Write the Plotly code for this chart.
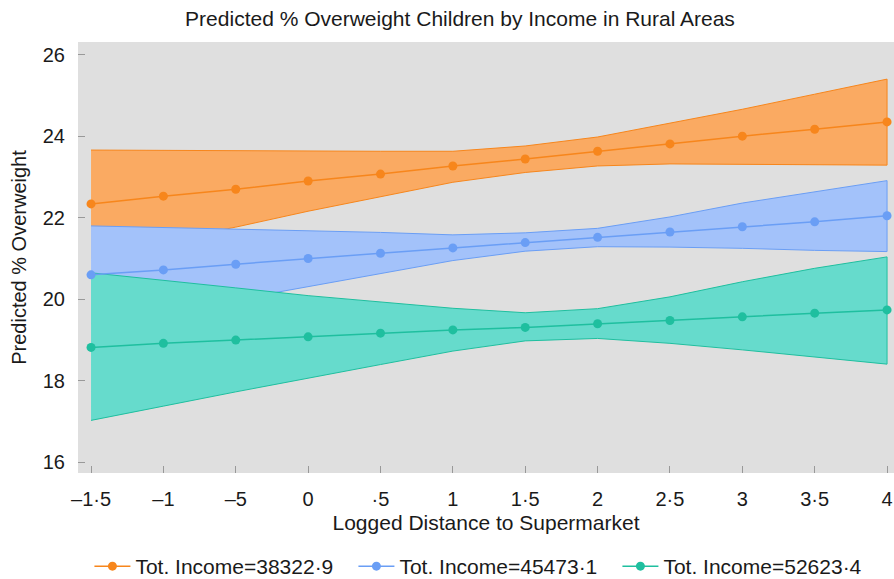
import plotly.graph_objects as go

# ---- data ----
x_vals = [-1.5, -1, -0.5, 0, 0.5, 1, 1.5, 2, 2.5, 3, 3.5, 4]
x_ticktext = ["–1·5", "–1", "–5", "0", "·5", "1", "1·5", "2", "2·5", "3", "3·5", "4"]
y_tickvals = [16, 18, 20, 22, 24, 26]

series_names = ["Tot. Income=38322·9", "Tot. Income=45473·1", "Tot. Income=52623·4"]

orange_mid = [22.34, 22.53, 22.70, 22.90, 23.07, 23.27, 23.44, 23.63, 23.81, 24.00, 24.17, 24.35]
orange_hi = [23.66, 23.65, 23.64, 23.63, 23.63, 23.63, 23.76, 23.98, 24.32, 24.66, 25.03, 25.40]
orange_lo = [21.01, 21.42, 21.77, 22.16, 22.51, 22.87, 23.11, 23.27, 23.32, 23.32, 23.30, 23.29]

blue_mid = [20.60, 20.72, 20.86, 21.00, 21.13, 21.26, 21.39, 21.52, 21.65, 21.78, 21.90, 22.05]
blue_hi = [21.80, 21.76, 21.72, 21.69, 21.64, 21.58, 21.63, 21.74, 22.02, 22.36, 22.64, 22.91]
blue_lo = [19.40, 19.68, 19.99, 20.30, 20.63, 20.95, 21.18, 21.29, 21.28, 21.25, 21.20, 21.17]

teal_mid = [18.82, 18.92, 19.00, 19.08, 19.17, 19.25, 19.31, 19.40, 19.48, 19.57, 19.66, 19.74]
teal_hi = [20.65, 20.47, 20.28, 20.09, 19.93, 19.78, 19.67, 19.77, 20.06, 20.43, 20.76, 21.04]
teal_lo = [17.03, 17.38, 17.73, 18.07, 18.40, 18.73, 18.98, 19.04, 18.92, 18.76, 18.59, 18.41]

mids = [orange_mid, blue_mid, teal_mid]
his = [orange_hi, blue_hi, teal_hi]
los = [orange_lo, blue_lo, teal_lo]

line_colors = ["#F7861C", "#6A9EF5", "#1FBF9F"]
fill_colors = ["#FAAA62", "#A3C2FA", "#66DBCC"]

FONT = "Liberation Sans, Arial, sans-serif"

fig = go.Figure()

# confidence bands
for hi, lo, lc, fc in zip(his, los, line_colors, fill_colors):
    fig.add_trace(go.Scatter(
        x=x_vals + x_vals[::-1],
        y=hi + lo[::-1],
        fill="toself",
        fillcolor=fc,
        mode="lines",
        line=dict(color=lc, width=1),
        showlegend=False,
        hoverinfo="skip",
    ))

# predicted lines
for name, mid, lc in zip(series_names, mids, line_colors):
    fig.add_trace(go.Scatter(
        x=x_vals, y=mid, name=name,
        mode="lines+markers",
        line=dict(color=lc, width=1.5),
        marker=dict(color=lc, size=9),
    ))

fig.update_layout(
    width=894, height=579,
    margin=dict(l=78, r=0, t=42, b=106, autoexpand=False),
    paper_bgcolor="white",
    plot_bgcolor="#DFDFDF",
    font=dict(family=FONT, size=20, color="#1a1a1a"),
    title=dict(
        text="Predicted % Overweight Children by Income in Rural Areas",
        x=460 / 894, xref="container", xanchor="center",
        y=1 - 19 / 579, yref="container", yanchor="middle",
        font=dict(size=21, family=FONT, color="#1a1a1a"),
        automargin=False,
    ),
    xaxis=dict(
        range=[-1.59, 4.048],
        tickmode="array", tickvals=x_vals, ticktext=x_ticktext,
        ticks="inside", ticklen=7, tickcolor="#999999", tickwidth=1,
        showgrid=False, zeroline=False, showline=False,
        ticklabelstandoff=12, automargin=False,
        ticklabeloverflow="allow",
        title=dict(text="Logged Distance to Supermarket", standoff=6,
                   font=dict(size=21, family=FONT)),
        tickfont=dict(size=20, family=FONT),
    ),
    yaxis=dict(
        range=[15.74, 26.31],
        tickmode="array", tickvals=y_tickvals,
        ticks="inside", ticklen=7, tickcolor="#999999", tickwidth=1,
        showgrid=False, zeroline=False, showline=False,
        ticklabelstandoff=12, automargin=False,
        title=dict(text="Predicted % Overweight", standoff=10,
                   font=dict(size=20, family=FONT)),
        tickfont=dict(size=20, family=FONT),
    ),
    legend=dict(
        orientation="h",
        x=0.014, xanchor="left",
        y=-0.217, yanchor="middle",
        font=dict(size=21, family=FONT),
        bgcolor="rgba(0,0,0,0)",
        itemwidth=36,
        entrywidth=213, entrywidthmode="pixels",
    ),
)

fig.write_html(
    "out.html",
    config={"displayModeBar": False},
    post_script="document.body.style.margin='0px';document.body.style.overflow='hidden';",
)
